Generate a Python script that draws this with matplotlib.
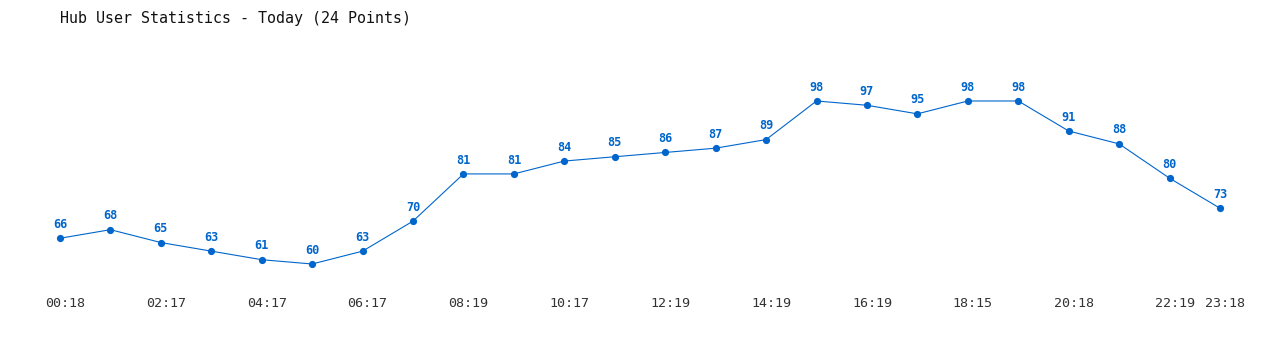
import matplotlib
matplotlib.use("Agg")
import matplotlib.pyplot as plt
import matplotlib.transforms as mtransforms

times = ["00:18", "01:18", "02:17", "03:17", "04:17", "05:17", "06:17", "07:18",
         "08:19", "09:18", "10:17", "11:18", "12:19", "13:18", "14:19", "15:19",
         "16:19", "17:17", "18:15", "19:17", "20:18", "21:18", "22:19", "23:18"]
users = [66, 68, 65, 63, 61, 60, 63, 70, 81, 81, 84, 85, 86, 87, 89, 98,
         97, 95, 98, 98, 91, 88, 80, 73]
tick_idx = [0, 2, 4, 6, 8, 10, 12, 14, 16, 18, 20, 22, 23]
title = "Hub User Statistics - Today (24 Points)"

color = "#0066cc"
W, H = 1280, 350
fig = plt.figure(figsize=(W / 100, H / 100), dpi=100)
# axes from pixel y 30 to 290
ax = fig.add_axes([0, (H - 290) / H, 1, 260 / H])
x = list(range(len(users)))
ax.plot(x, users, color=color, linewidth=0.8, marker="o", markersize=5.2,
        markeredgewidth=0)
ax.set_xlim(-60 / 50.435, 23 + 60 / 50.435)
ax.set_ylim(60 - 26 / 4.29, 60 + 234 / 4.29)
for xi, v in zip(x, users):
    ax.annotate(str(v), (xi, v), xytext=(0, 10), textcoords="offset points",
                ha="center", va="center", fontsize=8.6, fontweight="bold",
                color=color, family="DejaVu Sans Mono")
ax.set_xticks([x[i] for i in tick_idx])
ax.set_xticklabels([times[i] for i in tick_idx], family="DejaVu Sans Mono",
                   fontsize=9.6, color="#333333")
ax.tick_params(axis="x", length=0, pad=5)
shift = mtransforms.ScaledTranslation(5 / 100, 0, fig.dpi_scale_trans)
for lbl in ax.get_xticklabels():
    lbl.set_transform(lbl.get_transform() + shift)
ax.set_yticks([])
for s in ax.spines.values():
    s.set_visible(False)
fig.text(60 / W, 1 - 18 / H, title, ha="left", va="center",
         family="DejaVu Sans Mono", fontsize=10.8, color="#111111")
fig.savefig("out.png", dpi=100, facecolor="white")
